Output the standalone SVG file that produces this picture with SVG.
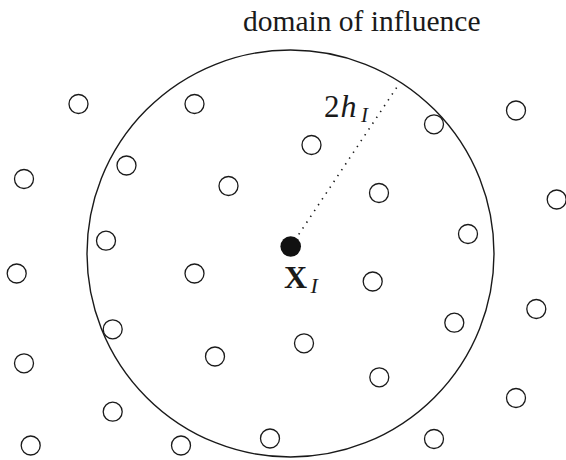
<svg xmlns="http://www.w3.org/2000/svg" width="566" height="460" viewBox="0 0 566 460">
<style>
.pt{fill:none;stroke:#1a1a1a;stroke-width:1.3}
.dom{fill:none;stroke:#1a1a1a;stroke-width:1.4}
.lbl{font-family:"Liberation Serif","DejaVu Serif",serif;fill:#1a1a1a}
.it{font-style:italic}
.dots{stroke:#1a1a1a;stroke-width:1.6;stroke-dasharray:1.4 5.6;fill:none}
</style>
<rect width="566" height="460" fill="#fff"/>
<g id="domain">
<circle class="dom" cx="290.5" cy="253.5" r="203.5"/>
<text class="lbl" x="243" y="31" font-size="29.5">domain of influence</text>
</g>
<g id="connectors">
<line class="dots" x1="291" y1="246" x2="399" y2="84"/>
</g>
<g id="center">
<circle cx="290.7" cy="246.5" r="10.3" fill="#111"/>
<text class="lbl" x="284" y="288.3" font-size="32" font-weight="bold">X</text>
<text class="lbl it" x="310.5" y="292.7" font-size="22">I</text>
</g>
<g id="radius-label">
<text class="lbl" x="324" y="117" font-size="31">2</text>
<text class="lbl it" x="340.5" y="117" font-size="32">h</text>
<text class="lbl it" x="361" y="122" font-size="21">I</text>
</g>
<g id="nodes">
<circle id="n1" class="pt" cx="78.5" cy="104" r="9.5"/>
<circle id="n2" class="pt" cx="194.5" cy="104" r="9.5"/>
<circle id="n3" class="pt" cx="434" cy="124.3" r="9.5"/>
<circle id="n4" class="pt" cx="516" cy="110.5" r="9.5"/>
<circle id="n5" class="pt" cx="311.5" cy="145" r="9.5"/>
<circle id="n6" class="pt" cx="126.5" cy="165.5" r="9.5"/>
<circle id="n7" class="pt" cx="24" cy="179" r="9.5"/>
<circle id="n8" class="pt" cx="228.5" cy="186" r="9.5"/>
<circle id="n9" class="pt" cx="379" cy="193" r="9.5"/>
<circle id="n10" class="pt" cx="556.7" cy="199.5" r="9.5"/>
<circle id="n11" class="pt" cx="106" cy="240.7" r="9.5"/>
<circle id="n12" class="pt" cx="468" cy="234" r="9.5"/>
<circle id="n13" class="pt" cx="16.7" cy="273.5" r="9.5"/>
<circle id="n14" class="pt" cx="194.5" cy="273.5" r="9.5"/>
<circle id="n15" class="pt" cx="372.7" cy="281.5" r="9.5"/>
<circle id="n16" class="pt" cx="112.7" cy="329.3" r="9.5"/>
<circle id="n17" class="pt" cx="536.3" cy="309" r="9.5"/>
<circle id="n18" class="pt" cx="454.3" cy="322.7" r="9.5"/>
<circle id="n19" class="pt" cx="304" cy="343.3" r="9.5"/>
<circle id="n20" class="pt" cx="215" cy="356.5" r="9.5"/>
<circle id="n21" class="pt" cx="24" cy="363.3" r="9.5"/>
<circle id="n22" class="pt" cx="379.3" cy="377.3" r="9.5"/>
<circle id="n23" class="pt" cx="112.7" cy="411.7" r="9.5"/>
<circle id="n24" class="pt" cx="516" cy="398" r="9.5"/>
<circle id="n25" class="pt" cx="30.7" cy="445.5" r="9.5"/>
<circle id="n26" class="pt" cx="181" cy="445.5" r="9.5"/>
<circle id="n27" class="pt" cx="270" cy="438.5" r="9.5"/>
<circle id="n28" class="pt" cx="434" cy="439" r="9.5"/>
</g>
</svg>
